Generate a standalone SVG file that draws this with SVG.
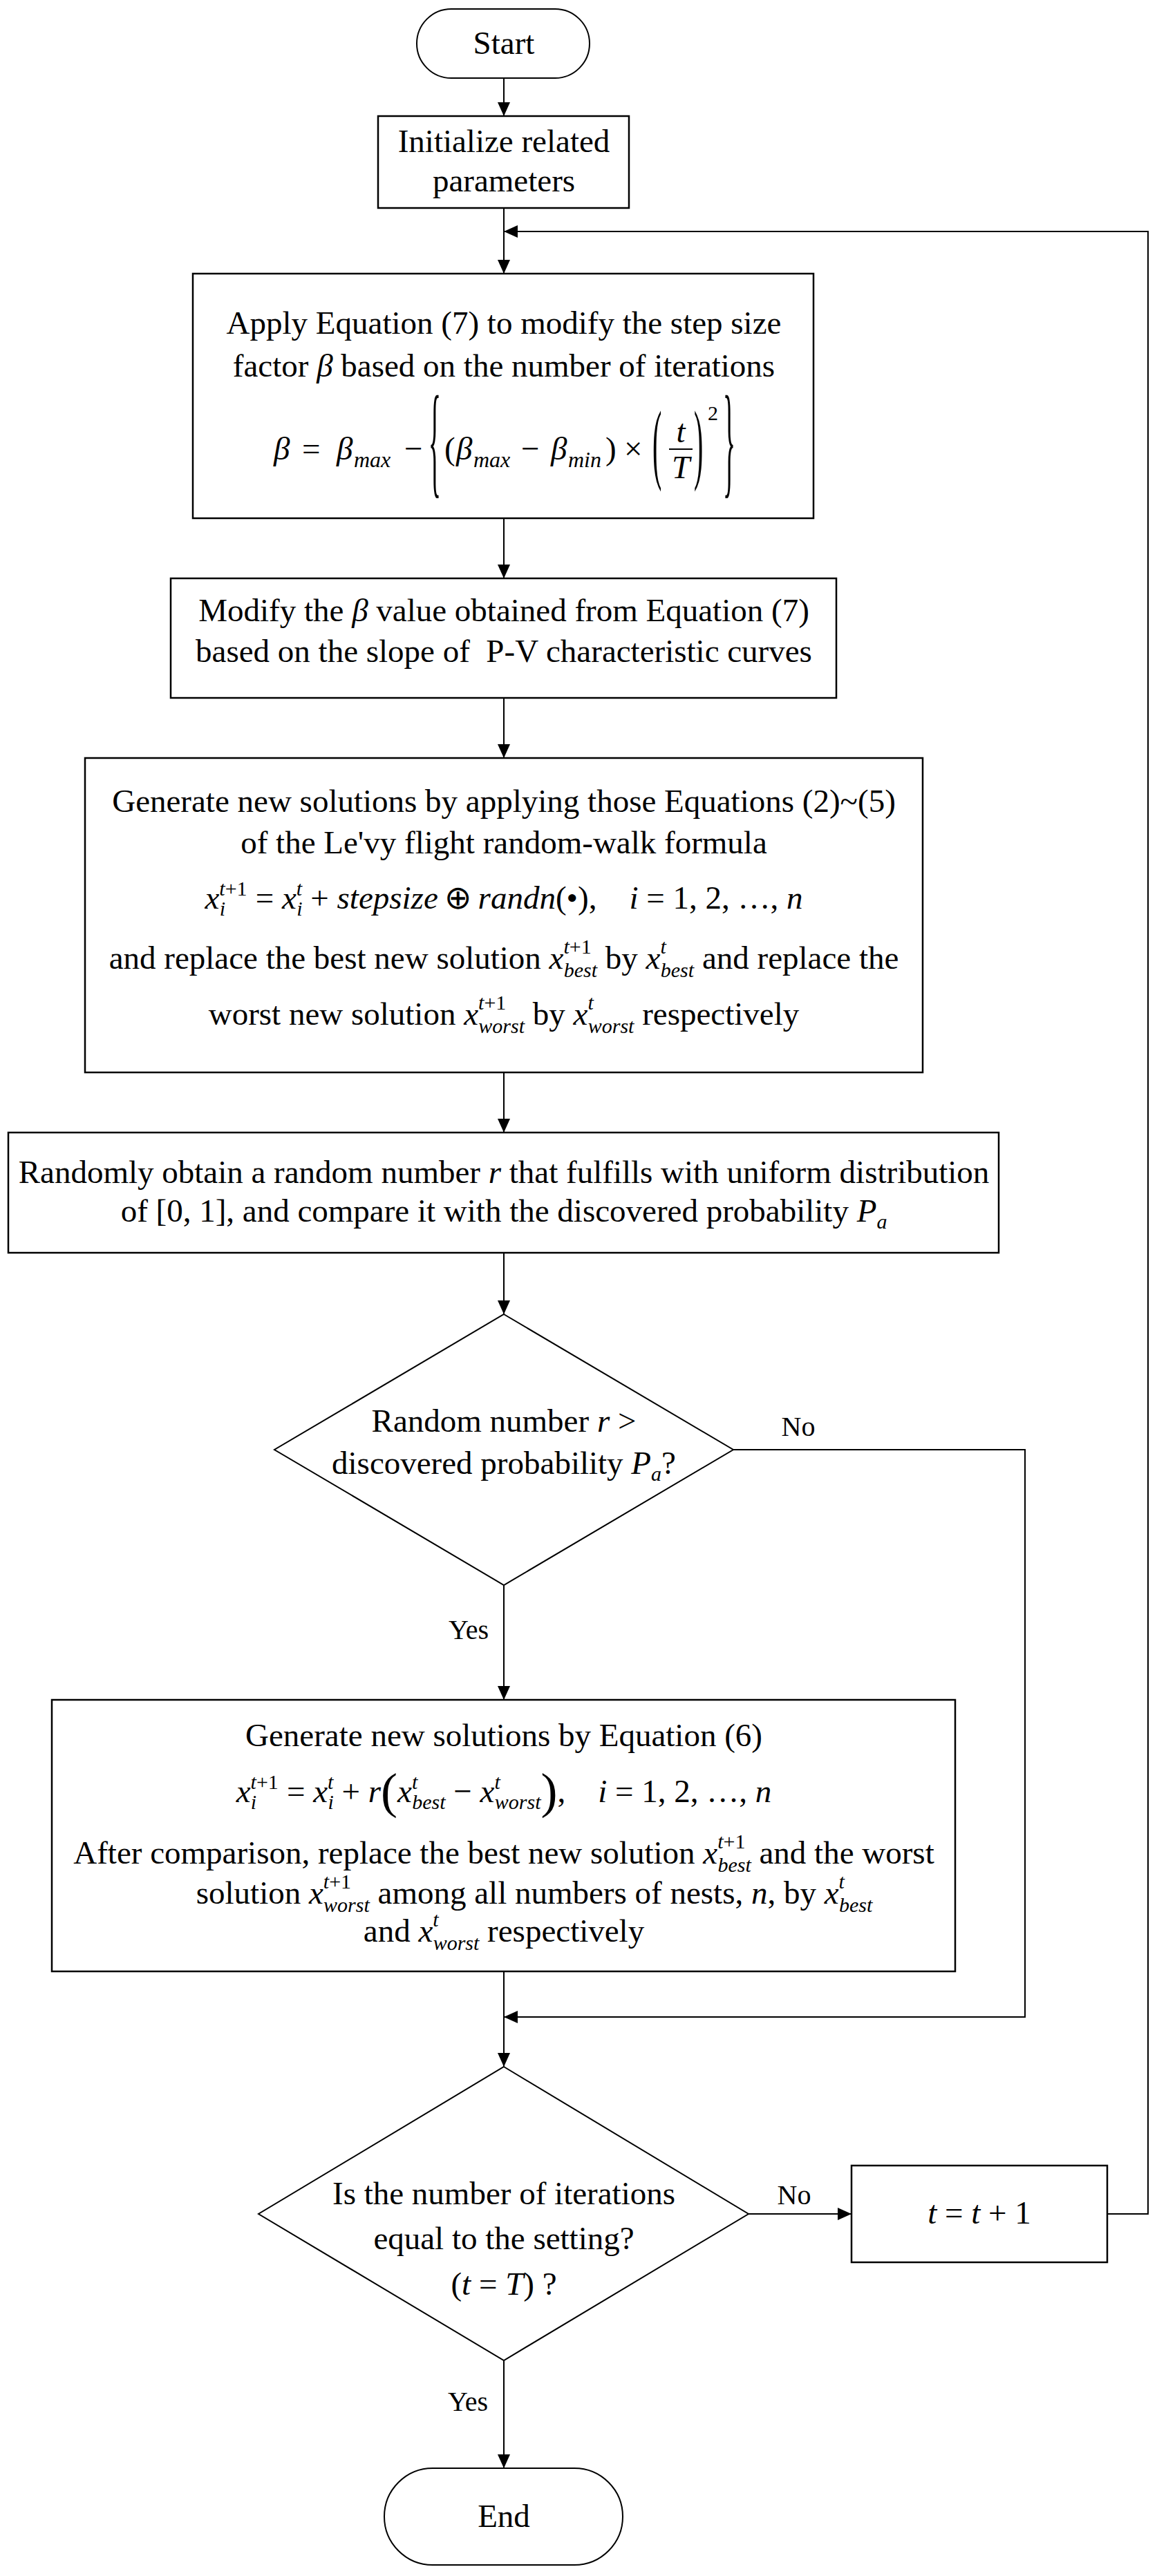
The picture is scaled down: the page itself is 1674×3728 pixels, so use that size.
<svg xmlns="http://www.w3.org/2000/svg" width="1674" height="3728" viewBox="0 0 1674 3728">
<style>
.t{font-family:"Liberation Serif","Times New Roman",serif;font-size:47px;fill:#000}
.m{text-anchor:middle}
.i{font-style:italic}
.s{font-size:30px}
.sub{font-size:32px}
.sup2{font-size:30px}
.lbl{font-size:40px}
.big{font-size:72px;font-style:normal}
.brace{font-family:"Liberation Serif","Times New Roman",serif;font-size:50px;fill:#000}
.box{fill:#fff;stroke:#000;stroke-width:2.5}
.dia{fill:#fff;stroke:#000;stroke-width:2}
.ln{fill:none;stroke:#000;stroke-width:2}
</style>
<defs>
<marker id="arr" markerUnits="userSpaceOnUse" markerWidth="20" markerHeight="18" refX="20" refY="9" orient="auto">
<path d="M0,0 L20,9 L0,18 z" fill="#000"/>
</marker>
</defs>
<rect x="0" y="0" width="1674" height="3728" fill="#fff"/>

<g id="connectors">
<line class="ln" x1="729" y1="113" x2="729" y2="168" marker-end="url(#arr)"/>
<line class="ln" x1="729" y1="301" x2="729" y2="396" marker-end="url(#arr)"/>
<polyline class="ln" points="1602,3204 1661,3204 1661,335 729,335" marker-end="url(#arr)"/>
<line class="ln" x1="729" y1="750" x2="729" y2="837" marker-end="url(#arr)"/>
<line class="ln" x1="729" y1="1010" x2="729" y2="1097" marker-end="url(#arr)"/>
<line class="ln" x1="729" y1="1552" x2="729" y2="1639" marker-end="url(#arr)"/>
<line class="ln" x1="729" y1="1813" x2="729" y2="1902" marker-end="url(#arr)"/>
<line class="ln" x1="729" y1="2294" x2="729" y2="2460" marker-end="url(#arr)"/>
<polyline class="ln" points="1061,2098 1483,2098 1483,2919 729,2919" marker-end="url(#arr)"/>
<line class="ln" x1="729" y1="2853" x2="729" y2="2991" marker-end="url(#arr)"/>
<line class="ln" x1="1083" y1="3204" x2="1232" y2="3204" marker-end="url(#arr)"/>
<line class="ln" x1="729" y1="3416" x2="729" y2="3572" marker-end="url(#arr)"/>
<text class="t lbl m" x="1155" y="2078">No</text>
<text class="t lbl m" x="678" y="2372">Yes</text>
<text class="t lbl m" x="1149" y="3190">No</text>
<text class="t lbl m" x="677" y="3489">Yes</text>
</g>

<g id="start">
<rect class="box" x="603" y="13" width="250" height="100" rx="50" ry="50" style="stroke-width:2"/>
<text class="t m" x="729" y="78">Start</text>
</g>

<g id="init">
<rect class="box" x="547" y="168" width="363" height="133"/>
<text class="t m" x="729" y="220">Initialize related</text>
<text class="t m" x="729" y="277">parameters</text>
</g>

<g id="step-size">
<rect class="box" x="279" y="396" width="898" height="354"/>
<text class="t m" x="729" y="483">Apply Equation (7) to modify the step size</text>
<text class="t m" x="729" y="545">factor <tspan class="i">β</tspan> based on the number of iterations</text>
<text class="t i" x="396" y="665">β</text>
<text class="t" x="437" y="665">=</text>
<text class="t i" x="487" y="665">β</text>
<text class="t i sub" x="512" y="676">max</text>
<text class="t" x="585" y="665">−</text>
<text class="brace" transform="translate(620,697) scale(0.75,3.6)">{</text>
<text class="t" x="643" y="665">(</text>
<text class="t i" x="660" y="665">β</text>
<text class="t i sub" x="685" y="676">max</text>
<text class="t" x="754" y="665">−</text>
<text class="t i" x="797" y="665">β</text>
<text class="t i sub" x="822" y="676">min</text>
<text class="t" x="876" y="665">)</text>
<text class="t" x="903" y="665">×</text>
<text class="brace" transform="translate(944,684) scale(0.8,2.6)">(</text>
<text class="t i m" x="985" y="640">t</text>
<line x1="968" y1="650" x2="1002" y2="650" stroke="#000" stroke-width="2"/>
<text class="t i m" x="985" y="692">T</text>
<text class="brace" transform="translate(1004,684) scale(0.8,2.6)">)</text>
<text class="t sup2" x="1024" y="608">2</text>
<text class="brace" transform="translate(1046,697) scale(0.75,3.6)">}</text>
</g>

<g id="modify-beta">
<rect class="box" x="247" y="837" width="963" height="173"/>
<text class="t m" x="729" y="899">Modify the <tspan class="i">β</tspan> value obtained from Equation (7)</text>
<text class="t m" x="729" y="958">based on the slope of&#160; P-V characteristic curves</text>
</g>

<g id="levy">
<rect class="box" x="123" y="1097" width="1212" height="455"/>
<text class="t m" x="729" y="1175">Generate new solutions by applying those Equations (2)~(5)</text>
<text class="t m" x="729" y="1235">of the Le'vy flight random-walk formula</text>
<text class="t m" x="729" y="1315"><tspan class="i">x</tspan><tspan class="s i" dy="-19">t</tspan><tspan class="s">+1</tspan><tspan class="s i" dx="-40" dy="29">i</tspan><tspan dx="32" dy="-10"> = </tspan><tspan class="i">x</tspan><tspan class="s i" dy="-19">t</tspan><tspan class="s i" dx="-8" dy="29">i</tspan><tspan dy="-10"> + </tspan><tspan class="i">stepsize</tspan>&#8201;⊕&#8201;<tspan class="i">randn</tspan>(•),&#160;&#160;&#160;&#160;<tspan class="i">i</tspan> = 1, 2, …, <tspan class="i">n</tspan></text>
<text class="t m" x="729" y="1402">and replace the best new solution <tspan class="i">x</tspan><tspan class="s i" dy="-22">t</tspan><tspan class="s">+1</tspan><tspan class="s i" dx="-40" dy="34">best</tspan><tspan dy="-12"> by </tspan><tspan class="i">x</tspan><tspan class="s i" dy="-22">t</tspan><tspan class="s i" dx="-8" dy="34">best</tspan><tspan dy="-12"> and replace the</tspan></text>
<text class="t m" x="729" y="1483">worst new solution <tspan class="i">x</tspan><tspan class="s i" dy="-22">t</tspan><tspan class="s">+1</tspan><tspan class="s i" dx="-40" dy="34">worst</tspan><tspan dy="-12"> by </tspan><tspan class="i">x</tspan><tspan class="s i" dy="-22">t</tspan><tspan class="s i" dx="-8" dy="34">worst</tspan><tspan dy="-12"> respectively</tspan></text>
</g>

<g id="random-r">
<rect class="box" x="12" y="1639" width="1433" height="174"/>
<text class="t m" x="729" y="1712">Randomly obtain a random number <tspan class="i">r</tspan> that fulfills with uniform distribution</text>
<text class="t m" x="729" y="1768">of [0, 1], and compare it with the discovered probability <tspan class="i">P</tspan><tspan class="s i" dy="10">a</tspan></text>
</g>

<g id="decision-pa">
<polygon class="dia" points="729,1902 1061,2098 729,2294 397,2098"/>
<text class="t m" x="729" y="2072">Random number <tspan class="i">r</tspan> &gt;</text>
<text class="t m" x="729" y="2133">discovered probability <tspan class="i">P</tspan><tspan class="s i" dy="10">a</tspan><tspan dy="-10">?</tspan></text>
</g>

<g id="eq6">
<rect class="box" x="75" y="2460" width="1307" height="393"/>
<text class="t m" x="729" y="2527">Generate new solutions by Equation (6)</text>
<text class="t m" x="729" y="2608"><tspan class="i">x</tspan><tspan class="s i" dy="-19">t</tspan><tspan class="s">+1</tspan><tspan class="s i" dx="-40" dy="29">i</tspan><tspan dx="32" dy="-10"> = </tspan><tspan class="i">x</tspan><tspan class="s i" dy="-19">t</tspan><tspan class="s i" dx="-8" dy="29">i</tspan><tspan dy="-10"> + </tspan><tspan class="i">r</tspan><tspan class="big" dy="8">(</tspan><tspan class="i" dy="-8">x</tspan><tspan class="s i" dy="-19">t</tspan><tspan class="s i" dx="-8" dy="29">best</tspan><tspan dy="-10"> − </tspan><tspan class="i">x</tspan><tspan class="s i" dy="-19">t</tspan><tspan class="s i" dx="-8" dy="29">worst</tspan><tspan class="big" dy="-2">)</tspan><tspan dy="-8">,&#160;&#160;&#160;&#160;</tspan><tspan class="i">i</tspan> = 1, 2, …, <tspan class="i">n</tspan></text>
<text class="t m" x="729" y="2697">After comparison, replace the best new solution <tspan class="i">x</tspan><tspan class="s i" dy="-22">t</tspan><tspan class="s">+1</tspan><tspan class="s i" dx="-40" dy="34">best</tspan><tspan dy="-12"> and the worst</tspan></text>
<text class="t m" x="773" y="2755">solution <tspan class="i">x</tspan><tspan class="s i" dy="-22">t</tspan><tspan class="s">+1</tspan><tspan class="s i" dx="-40" dy="34">worst</tspan><tspan dy="-12"> among all numbers of nests, </tspan><tspan class="i">n</tspan>, by <tspan class="i">x</tspan><tspan class="s i" dy="-22">t</tspan><tspan class="s i" dx="-8" dy="34">best</tspan></text>
<text class="t m" x="729" y="2810">and <tspan class="i">x</tspan><tspan class="s i" dy="-22">t</tspan><tspan class="s i" dx="-8" dy="34">worst</tspan><tspan dy="-12"> respectively</tspan></text>
</g>

<g id="decision-iter">
<polygon class="dia" points="729,2991 1083,3204 729,3416 374,3204"/>
<text class="t m" x="729" y="3190">Is the number of iterations</text>
<text class="t m" x="729" y="3255">equal to the setting?</text>
<text class="t m" x="729" y="3321">(<tspan class="i">t</tspan> = <tspan class="i">T</tspan>) ?</text>
</g>

<g id="increment">
<rect class="box" x="1232" y="3134" width="370" height="140"/>
<text class="t m" x="1417" y="3218"><tspan class="i">t</tspan> = <tspan class="i">t</tspan> + 1</text>
</g>

<g id="end">
<rect class="box" x="556" y="3572" width="345" height="140" rx="70" ry="70" style="stroke-width:2"/>
<text class="t m" x="729" y="3657">End</text>
</g>
</svg>
